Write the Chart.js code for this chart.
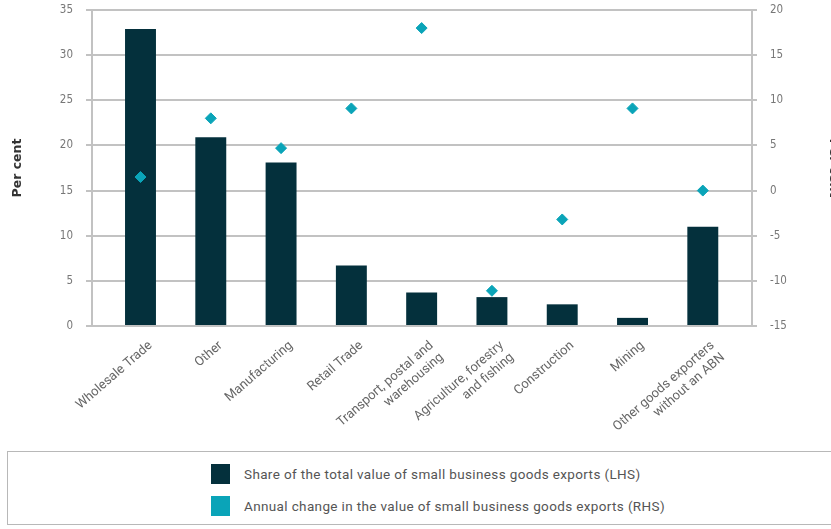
<!DOCTYPE html>
<html>
<head>
<meta charset="utf-8">
<script src="https://cdn.jsdelivr.net/npm/chart.js@4/dist/chart.umd.min.js"></script>
<style>
  html, body { margin: 0; padding: 0; background: #fff; overflow: hidden; width: 831px; height: 529px; }
  #wrap { position: absolute; left: 0; top: 0; width: 845px; height: 448px; }
  #legend {
    position: absolute; left: 7px; top: 451px; width: 840px; height: 74px;
    border: 1.5px solid #b8b8b8; box-sizing: border-box;
    font-family: Roboto, "Noto Sans", sans-serif; font-size: 13.5px; letter-spacing: 0.36px; color: #555;
  }
  #legend .item { position: absolute; left: 203px; height: 20px; line-height: 20px; }
  #legend .sw { position: absolute; left: 0; top: 0; width: 19px; height: 20px; }
  #legend .txt { position: absolute; left: 33px; top: 0; white-space: nowrap; }
</style>
</head>
<body>
<div id="wrap"><canvas id="exportsChart" width="845" height="448"></canvas></div>
<div id="legend"></div>
<script>
const industries = [
  'Wholesale Trade',
  'Other',
  'Manufacturing',
  'Retail Trade',
  ['Transport, postal and', 'warehousing'],
  ['Agriculture, forestry', 'and fishing'],
  'Construction',
  'Mining',
  ['Other goods exporters', 'without an ABN']
];
// share of total value of small business goods exports, per cent (LHS)
const shareOfValue = [32.9, 20.9, 18.1, 6.7, 3.7, 3.2, 2.4, 0.9, 11.0];
// annual change in value, per cent (RHS)
const annualChange = [1.5, 8.0, 4.7, 9.1, 18.0, -11.1, -3.2, 9.1, 0.0];

const leftTicks = [0, 5, 10, 15, 20, 25, 30, 35];
const rightTicks = [-15, -10, -5, 0, 5, 10, 15, 20];

const barColor = '#04303c';
const dotColor = '#0aa4b8';
const gridColor = '#c2c2c2';
const tickFont = { family: "'Liberation Sans Narrow', 'DejaVu Sans Condensed', sans-serif", size: 11.5 };
const titleFont = { family: "'DejaVu Sans', sans-serif", size: 12.5, weight: 'bold' };

// tick padding would otherwise push the plot area down
function fixVertical(width) {
  return s => {
    s.width = width;
    s.paddingTop = 7;
    s.paddingBottom = 7;
  };
}

const chart = new Chart(document.getElementById('exportsChart'), {
  type: 'bar',
  data: {
    datasets: [
      {
        label: 'Share of the total value of small business goods exports (LHS)',
        data: shareOfValue.map((v, i) => ({ x: i, y: v })),
        backgroundColor: barColor,
        barPercentage: 0.55,
        categoryPercentage: 0.8,
        yAxisID: 'y',
        order: 2
      },
      {
        type: 'line',
        label: 'Annual change in the value of small business goods exports (RHS)',
        data: annualChange.map((v, i) => ({ x: i, y: v })),
        showLine: false,
        pointStyle: 'rectRot',
        pointRadius: 5.5,
        borderWidth: 1,
        borderColor: dotColor,
        backgroundColor: dotColor,
        yAxisID: 'y1',
        order: 1
      }
    ]
  },
  options: {
    responsive: false,
    animation: false,
    layout: { padding: { top: 10, left: 0, right: 0, bottom: 0 } },
    plugins: { legend: { display: false }, tooltip: { enabled: false } },
    scales: {
      x: {
        type: 'linear',
        offset: false,
        min: -0.69,
        max: 8.7,
        afterBuildTicks: s => { s.ticks = industries.map((_, i) => ({ value: i })); },
        afterFit: s => { s.height = 122; },
        grid: { display: false, offset: false },
        border: { display: true, color: gridColor, width: 2 },
        ticks: {
          autoSkip: false,
          minRotation: 41,
          maxRotation: 41,
          padding: 4,
          labelOffset: 10,
          color: '#666',
          font: { family: 'Roboto, sans-serif', size: 13 },
          callback: v => industries[v]
        }
      },
      y: {
        position: 'left',
        min: leftTicks[0],
        max: leftTicks[leftTicks.length - 1],
        afterFit: fixVertical(92),
        grid: { display: true, color: gridColor, lineWidth: 2, tickLength: 6 },
        border: { color: gridColor, width: 2 },
        ticks: { stepSize: leftTicks[1] - leftTicks[0], padding: 13, color: '#777', font: tickFont },
        title: { display: true, text: 'Per cent', color: '#333', font: titleFont, padding: { top: 10, bottom: 0 } }
      },
      y1: {
        position: 'right',
        min: rightTicks[0],
        max: rightTicks[rightTicks.length - 1],
        afterFit: fixVertical(93),
        grid: { display: true, drawOnChartArea: false, color: gridColor, lineWidth: 2, tickLength: 5 },
        border: { color: gridColor, width: 2 },
        ticks: { stepSize: rightTicks[1] - rightTicks[0], padding: 13, color: '#777', font: tickFont },
        title: { display: true, text: 'Per cent', color: '#333', font: titleFont, padding: { top: 4, bottom: 0 } }
      }
    }
  }
});

// legend box below the chart, built from the datasets
const legendEl = document.getElementById('legend');
chart.data.datasets.forEach((ds, i) => {
  const item = document.createElement('div');
  item.className = 'item';
  item.style.top = (12 + i * 32) + 'px';
  const sw = document.createElement('span');
  sw.className = 'sw';
  sw.style.background = ds.backgroundColor;
  const txt = document.createElement('span');
  txt.className = 'txt';
  txt.textContent = ds.label;
  item.appendChild(sw);
  item.appendChild(txt);
  legendEl.appendChild(item);
});
</script>
</body>
</html>
